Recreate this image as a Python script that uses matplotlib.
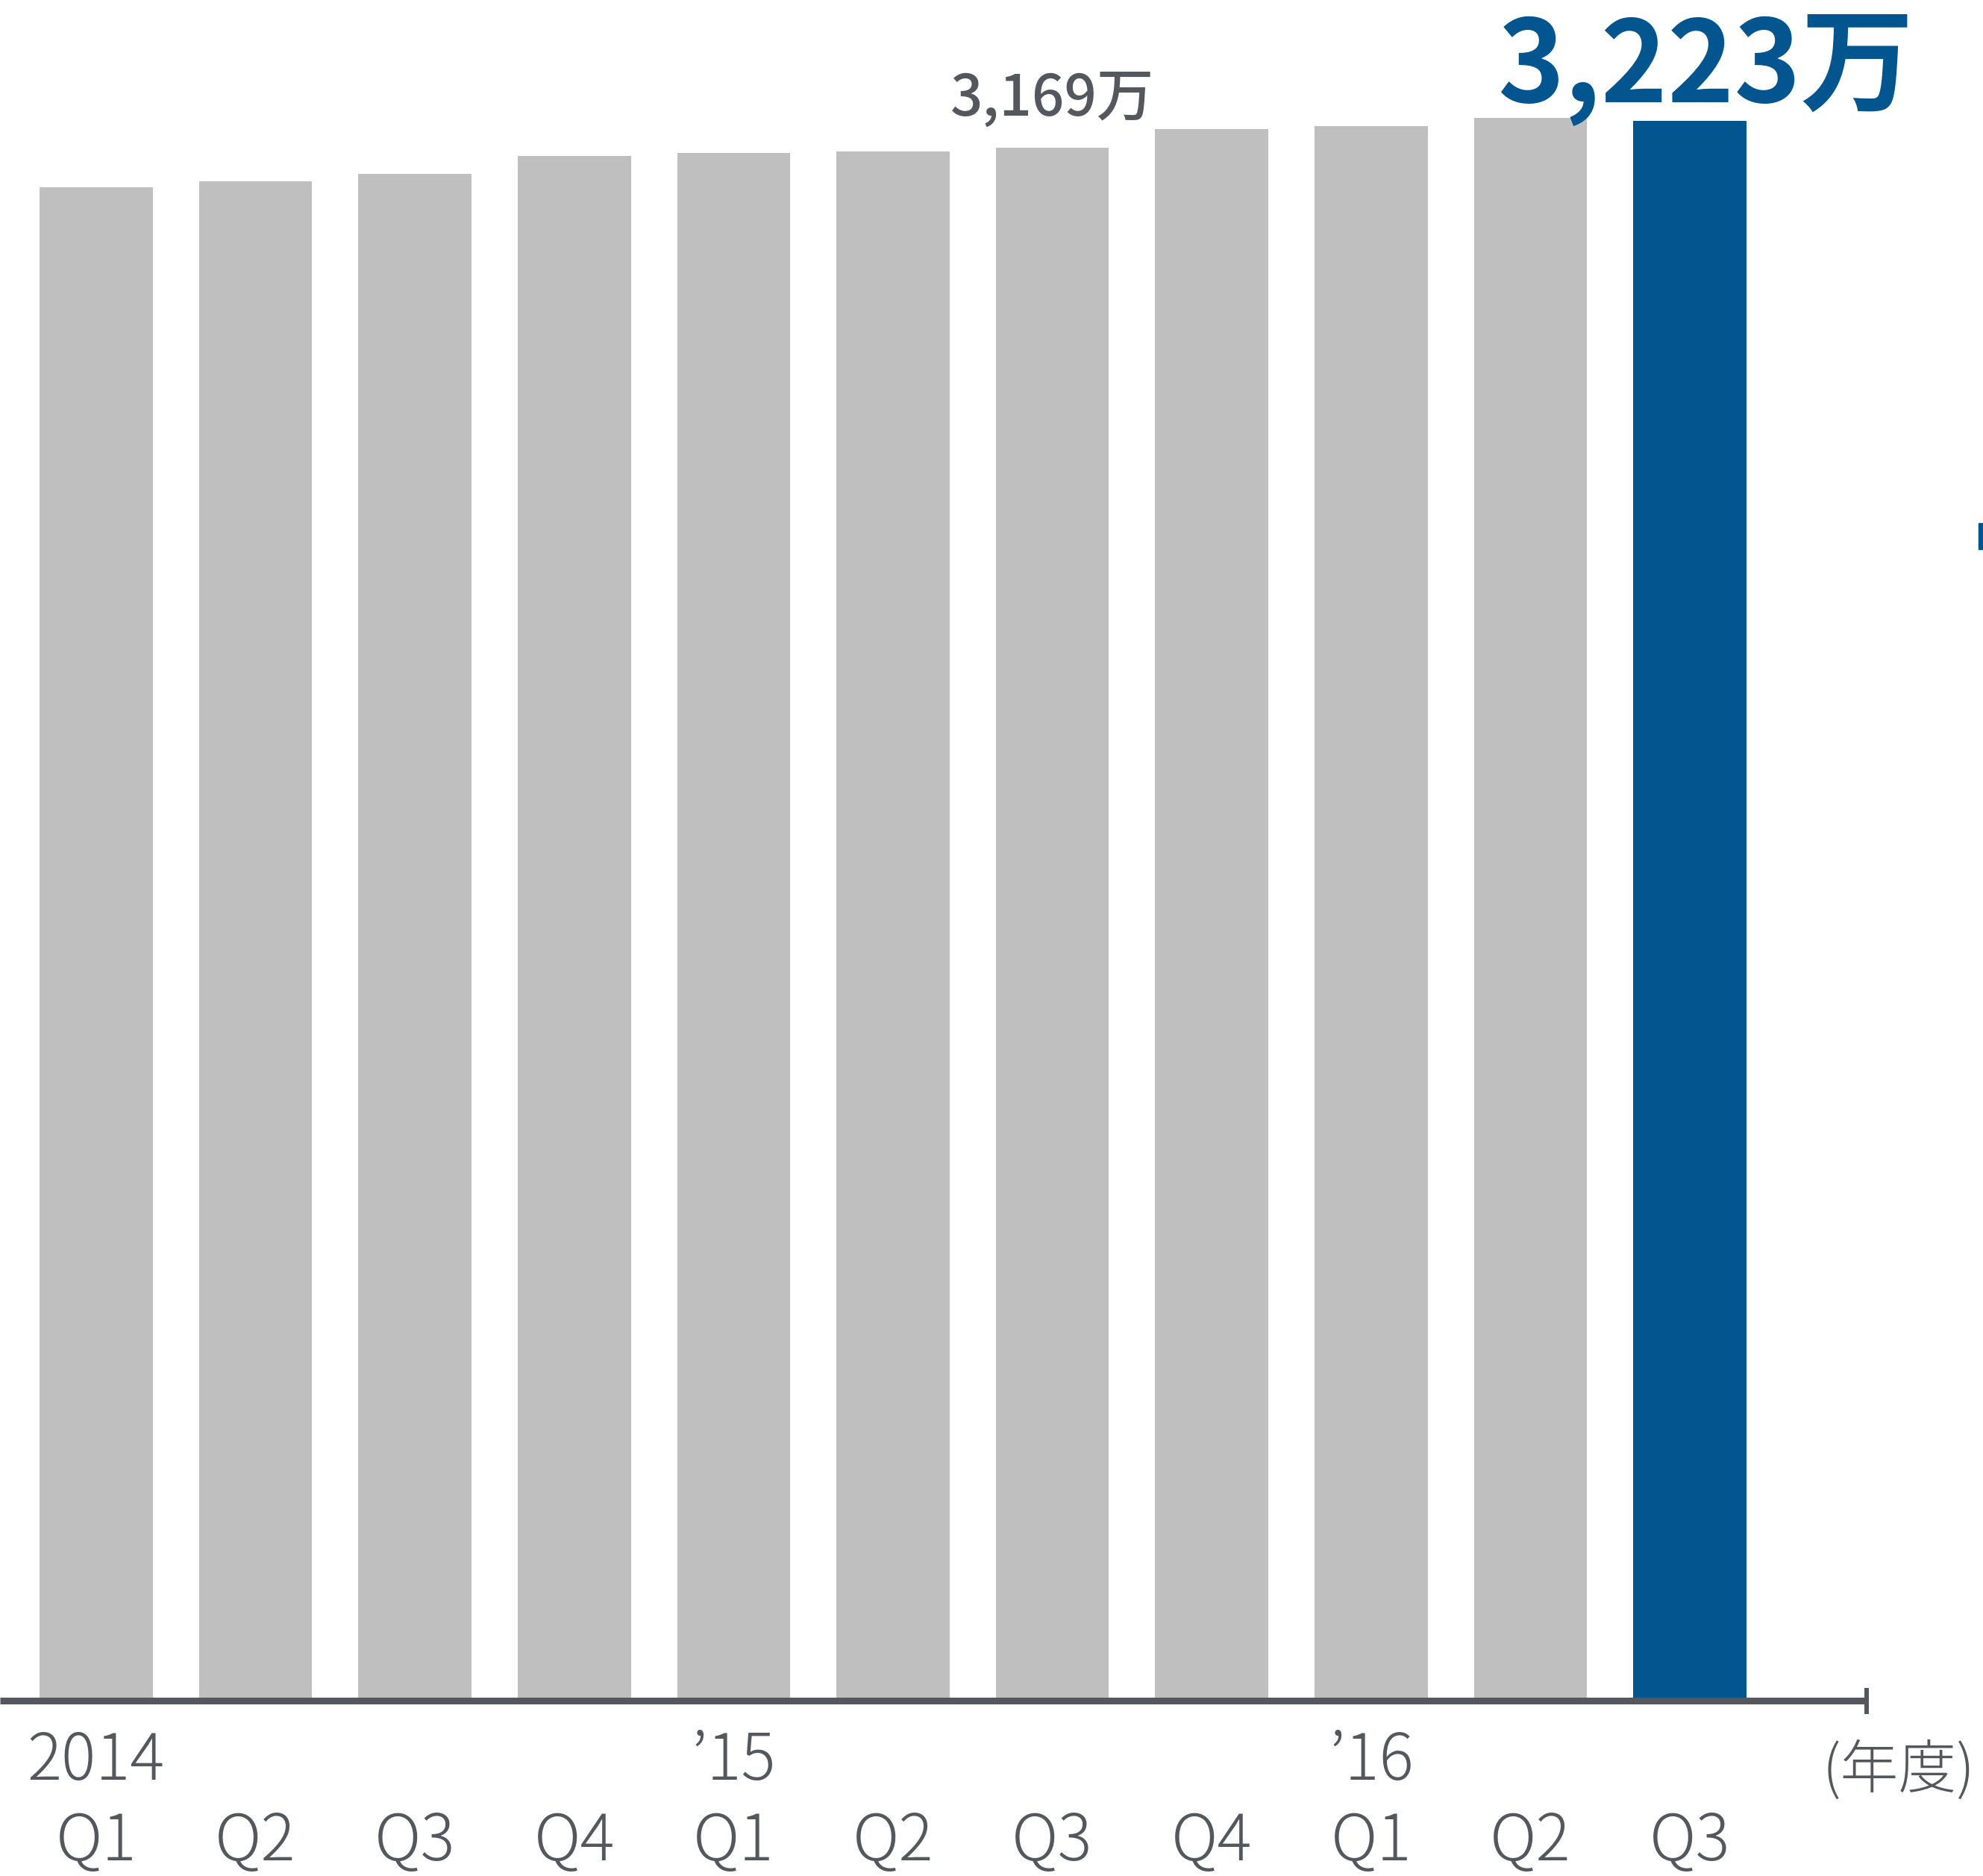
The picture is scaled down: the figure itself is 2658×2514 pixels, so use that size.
import matplotlib
matplotlib.use("Agg")
import matplotlib.pyplot as plt
from matplotlib.patches import Rectangle
from matplotlib import transforms as mtransforms

plt.rcParams["font.family"] = ["Noto Sans CJK JP", "DejaVu Sans"]

### Data (subscribers, unit: 万)
years = ["2014", "", "", "", "’15", "", "", "", "’16", "", ""]
quarters = ["Q1", "Q2", "Q3", "Q4", "Q1", "Q2", "Q3", "Q4", "Q1", "Q2", "Q3"]
subscribers = [3088, 3100, 3116, 3152, 3158, 3161, 3169, 3206, 3213, 3230, 3223]
highlight_index = 10
labelled = {6: "small", 10: "big"}

gray = "#bfbfbf"
blue = "#02558f"
dark = "#54585e"

W, H, DPI = 2658, 2514, 100
fig = plt.figure(figsize=(W / DPI, H / DPI), dpi=DPI)
ax = fig.add_axes([0, 0, 1, 1])
ax.axis("off")

x = list(range(len(subscribers)))
colors = [blue if i == highlight_index else gray for i in x]
ax.bar(x, subscribers, width=0.71, color=colors, zorder=2)

ax.set_xlim(-0.604, 11.84)
ax.set_ylim(-357, 3470)

### Axis line with end tick
x_end = len(subscribers) + 0.11
ax.plot([-0.604, x_end], [0, 0], color=dark, linewidth=6.5,
        solid_capstyle="butt", zorder=3, clip_on=False)
ax.plot([x_end, x_end], [-27, 27], color=dark, linewidth=4.3,
        solid_capstyle="butt", zorder=3)

### Value labels
for i, kind in labelled.items():
    text = f"{subscribers[i]:,}万"
    if kind == "big":
        ax.annotate(text, (x[i], subscribers[i]), xytext=(15, 18),
                    textcoords="offset points", ha="center", va="baseline",
                    fontsize=109, fontweight="bold", color=blue)
    else:
        ax.annotate(text, (x[i], subscribers[i]), xytext=(0, 31),
                    textcoords="offset points", ha="center", va="baseline",
                    fontsize=55, fontweight="medium", color=dark)

### Category labels (two rows)
trans = mtransforms.blended_transform_factory(ax.transData, fig.transFigure)
for i in x:
    if years[i]:
        ax.text(x[i], 0.0513, years[i], transform=trans, ha="center",
                va="baseline", fontsize=62, fontweight="light", color=dark)
    ax.text(x[i], 0.0085, quarters[i], transform=trans, ha="center",
            va="baseline", fontsize=62, fontweight="light", color=dark)

fig.text(2647 / W, 0.0557, "(年度)", ha="right", va="center",
         fontsize=56, fontweight="light", color=dark)

### Small blue mark cut off at right edge
fig.patches.append(Rectangle((2652 / W, (H - 736) / H), 6 / W, 35 / H,
                             transform=fig.transFigure, color=blue))

fig.savefig("out.png", dpi=DPI)
